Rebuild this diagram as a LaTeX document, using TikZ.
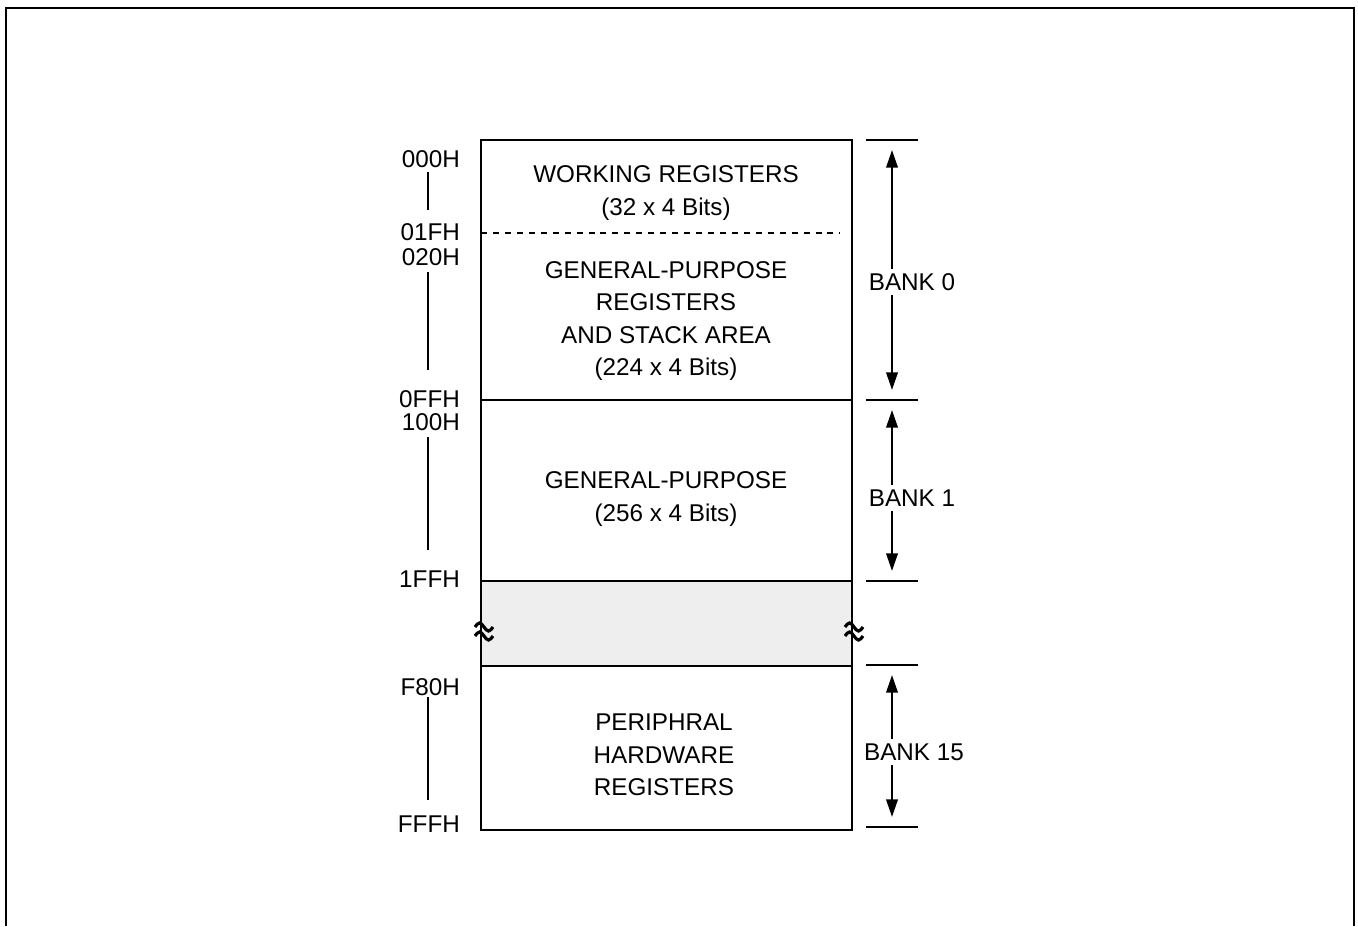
\documentclass[tikz,border=0pt]{standalone}
\usepackage{fontspec}
\setmainfont{Liberation Sans}
\usetikzlibrary{positioning,arrows.meta}

\begin{document}
\begin{tikzpicture}[x=0.02cm, y=-0.02cm, line width=1.3pt,
    txt/.style={align=center, font=\fontsize{13.8}{18.4}\selectfont},
    adr/.style={anchor=east, inner sep=0pt, font=\fontsize{13.8}{16}\selectfont},
    bank/.style={inner sep=2pt, font=\fontsize{13.8}{16}\selectfont},
    arrow/.style={-{Triangle[width=6.5pt,length=10pt]}, line width=1.3pt},
    brk/.style={line width=1.8pt}]

\useasboundingbox (0,0) rectangle (1358,926);

%okvir
\draw (6,926) -- (6,8) -- (1354,8) -- (1354,926);

%memorija
\fill[gray!13] (481,581) rectangle (852,666);
\draw (481,140) rectangle (852,830);
\draw[dash pattern=on 3.4pt off 3.4pt, line width=1.1pt] (481,233) -- (840,233);
\draw (481,400) -- (852,400);
\draw (481,581) -- (852,581);
\draw (481,666) -- (852,666);

%prekid
\foreach \x in {484,854} {
    \draw[brk] (\x-9,627) sin (\x-4.5,623) cos (\x,627) sin (\x+4.5,631) cos (\x+9,627);
    \draw[brk] (\x-9,636) sin (\x-4.5,632) cos (\x,636) sin (\x+4.5,640) cos (\x+9,636);
}

%tekst u blokovima
\node (wr) [txt] at (666,193) {WORKING REGISTERS\\(32 x 4 Bits)};
\node (gps) [txt] at (666,321) {GENERAL-PURPOSE\\REGISTERS\\AND STACK AREA\\(224 x 4 Bits)};
\node (gp) [txt] at (666,499) {GENERAL-PURPOSE\\(256 x 4 Bits)};
\node (per) [txt] at (664,755) {PERIPHRAL\\HARDWARE\\REGISTERS};

%adrese
\node (a000) [adr] at (461,159) {000H};
\node (a01f) [adr] at (461,232) {01FH};
\node (a020) [adr] at (461,257) {020H};
\node (a0ff) [adr] at (461,399) {0FFH};
\node (a100) [adr] at (461,422) {100H};
\node (a1ff) [adr] at (461,579) {1FFH};
\node (af80) [adr] at (461,687) {F80H};
\node (afff) [adr] at (461,824) {FFFH};

%crte izmedju adresa
\foreach \a/\b in {172/210, 272/370, 437/550, 697/800}
    \draw (428,\a) -- (428,\b);

%oznake na desnoj strani
\foreach \y in {140,400,581,665,827}
    \draw (866,\y) -- (918,\y);

\coordinate (t0) at (892,150);
\coordinate (b0) at (892,390);
\coordinate (t1) at (892,410);
\coordinate (b1) at (892,571);
\coordinate (t15) at (892,675);
\coordinate (b15) at (892,817);

\node (bank0) [bank] at (912,282) {BANK 0};
\node (bank1) [bank] at (912,498) {BANK 1};
\node (bank15) [bank] at (914,752) {BANK 15};

%strelice
\draw[arrow] (bank0.north -| t0) -- (t0);
\draw[arrow] (bank0.south -| t0) -- (b0);
\draw[arrow] (bank1.north -| t1) -- (t1);
\draw[arrow] (bank1.south -| t1) -- (b1);
\draw[arrow] (bank15.north -| t15) -- (t15);
\draw[arrow] (bank15.south -| t15) -- (b15);

\end{tikzpicture}
\end{document}
